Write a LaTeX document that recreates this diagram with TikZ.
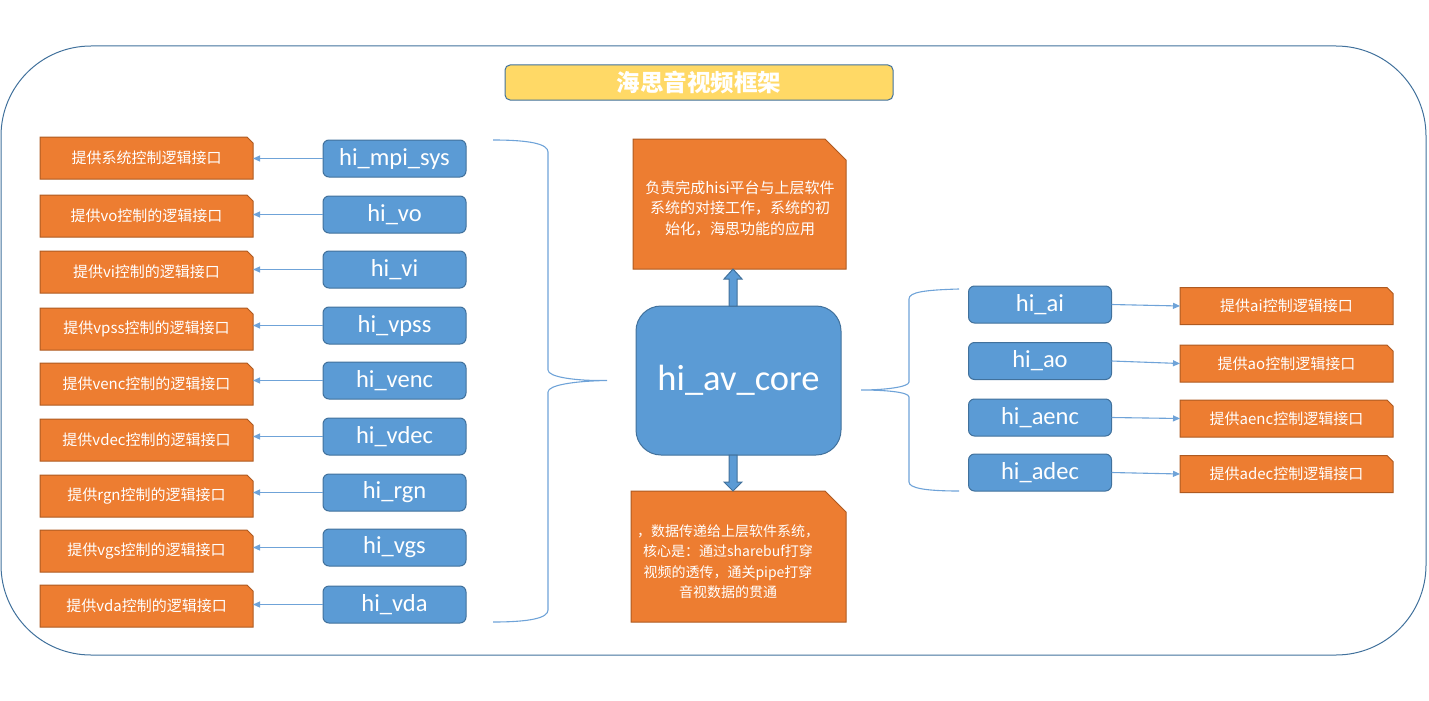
\documentclass[tikz,border=0pt]{standalone}
\usepackage{fontspec}
\newfontfamily\cjk{Noto Sans CJK SC}
\newfontfamily\carl{Carlito}
\usetikzlibrary{backgrounds,calc,arrows.meta}
\definecolor{oran}{HTML}{ED7D31}
\definecolor{oranline}{HTML}{AE5A21}
\definecolor{blu}{HTML}{5B9BD5}
\definecolor{bluline}{HTML}{41719C}
\definecolor{yel}{HTML}{FFD966}
\definecolor{lnk}{HTML}{6FA3D8}
\newcommand\snipshape[2]{\path[snipfill] (#1.south west) -- (#1.north west) -- ([xshift=-#2pt]#1.north east) -- ([yshift=-#2pt]#1.north east) -- (#1.south east) -- cycle;}
\begin{document}
\begin{tikzpicture}[x=1pt,y=-1pt,
  bbox/.style={draw=bluline, fill=blu, line width=1pt, rounded corners=6pt, text=white, font=\carl\fontsize{24.5}{28}\selectfont, minimum width=143pt, minimum height=37pt, inner sep=0pt, outer sep=0pt},
  obox/.style={inner sep=0pt, outer sep=0pt, text=white, font=\cjk\fontsize{15}{17}\selectfont, minimum width=213pt, minimum height=42pt},
  otext/.style={text=white, align=center, inner sep=0pt},
  link/.style={draw=lnk, line width=1.1pt, -{Triangle[length=7pt,width=6pt]}},
  brace/.style={draw=lnk, line width=1.1pt},
  snipfill/.style={fill=oran, draw=oranline, line width=1pt},
  block/.style={fill=blu, draw=bluline, line width=1pt},
]
\useasboundingbox (0,0) rectangle (1429,701);
% frame
\node[draw=bluline, line width=1pt, rounded corners=90pt, minimum width=1425pt, minimum height=609pt, inner sep=0pt] (frame) at (713.5,350.5) {};
% title
\node[draw=bluline, line width=1pt, fill=yel, rounded corners=5pt, minimum width=388pt, minimum height=35pt, inner sep=0pt, text=white, font=\cjk\bfseries\fontsize{23.5}{28}\selectfont] (title) at (699,82.5) {海思音视频框架};
% left column
\foreach \i/\oy/\by/\ot/\bt in {
  1/158/158.5/提供系统控制逻辑接口/hi\_mpi\_sys,
  2/216/214.5/提供vo控制的逻辑接口/hi\_vo,
  3/272/269.5/提供vi控制的逻辑接口/hi\_vi,
  4/329/325.5/提供vpss控制的逻辑接口/hi\_vpss,
  5/384/380.5/提供venc控制的逻辑接口/hi\_venc,
  6/440/436.5/提供vdec控制的逻辑接口/hi\_vdec,
  7/496/492.5/提供rgn控制的逻辑接口/hi\_rgn,
  8/551/547.5/提供vgs控制的逻辑接口/hi\_vgs,
  9/606/604.5/提供vda控制的逻辑接口/hi\_vda}{
  \node[obox] (lo\i) at (146.5,\oy) {\ot};
  \node[bbox] (lb\i) at (394.5,\by) {\bt};
  \draw[link] (lb\i.west) -- (lb\i.west -| lo\i.east);
  \begin{scope}[on background layer]\snipshape{lo\i}{6}\end{scope}
}
% right column
\foreach \i/\oy/\by/\ot/\bt in {
  1/306/304.5/提供ai控制逻辑接口/hi\_ai,
  2/363.5/361/提供ao控制逻辑接口/hi\_ao,
  3/418.5/417.5/提供aenc控制逻辑接口/hi\_aenc,
  4/474/472.5/提供adec控制逻辑接口/hi\_adec}{
  \node[obox, minimum height=37pt] (ro\i) at (1286.5,\oy) {\ot};
  \node[bbox] (rb\i) at (1040,\by) {\bt};
  \draw[link] (rb\i.east) -- (ro\i.west);
  \begin{scope}[on background layer]\snipshape{ro\i}{6}\end{scope}
}
% core
\node[draw=bluline, fill=blu, line width=1pt, rounded corners=25pt, minimum width=205pt, minimum height=149pt, inner sep=0pt, outer sep=0pt, text=white, font=\carl\fontsize{36.5}{40}\selectfont] (core) at (738.5,380.5) {hi\_av\_core};
% top and bottom boxes
\node[obox, minimum width=213pt, minimum height=130pt] (tb) at (739.5,204) {};
\node[otext, font=\cjk\fontsize{15}{20.5}\selectfont] (tbt) at (740,208) {负责完成hisi平台与上层软件\\系统的对接工作，系统的初\\始化，海思功能的应用};
\node[obox, minimum width=215pt, minimum height=131pt] (bb) at (738.5,556.5) {};
\node[otext, font=\cjk\fontsize{14}{20.5}\selectfont] (bbt) at (728,561.5) {，数据传递给上层软件系统，\\核心是：通过sharebuf打穿\\视频的透传，通关pipe打穿\\音视数据的贯通};
\begin{scope}[on background layer]\snipshape{tb}{21}\snipshape{bb}{21}\end{scope}
% block arrows
\coordinate (ua) at ([xshift=-5.5pt]core.north);
\coordinate (ut) at (ua |- tb.south);
\path[block] ([xshift=-4pt]ua) -- ([xshift=-4pt,yshift=-10pt]ut) -- ([xshift=-9pt,yshift=-10pt]ut) -- (ut) -- ([xshift=9pt,yshift=-10pt]ut) -- ([xshift=4pt,yshift=-10pt]ut) -- ([xshift=4pt]ua) -- cycle;
\coordinate (da) at ([xshift=-5.5pt]core.south);
\coordinate (dt) at (da |- bb.north);
\path[block] ([xshift=-4pt]da) -- ([xshift=-4pt,yshift=9pt]dt) -- ([xshift=-9pt,yshift=9pt]dt) -- (dt) -- ([xshift=9pt,yshift=9pt]dt) -- ([xshift=4pt,yshift=9pt]dt) -- ([xshift=4pt]da) -- cycle;
% braces
\coordinate (lbtip) at ([xshift=-29pt]core.west);
\draw[brace] (493,140) .. controls (530,140) and (548,144) .. (548,152) -- (548,370) .. controls (548,377) and (575,381) .. (lbtip) .. controls (575,381) and (548,385) .. (548,392) -- (548,610) .. controls (548,618) and (530,622) .. (493,622);
\coordinate (rbtip) at (861,390);
\draw[brace] (959,289) .. controls (925,290) and (909,292) .. (909,299) -- (909,382) .. controls (909,387) and (885,390) .. (rbtip) .. controls (885,390) and (909,392) .. (909,397) -- (909,482) .. controls (909,488) and (925,491) .. (959,491);
\end{tikzpicture}
\end{document}
